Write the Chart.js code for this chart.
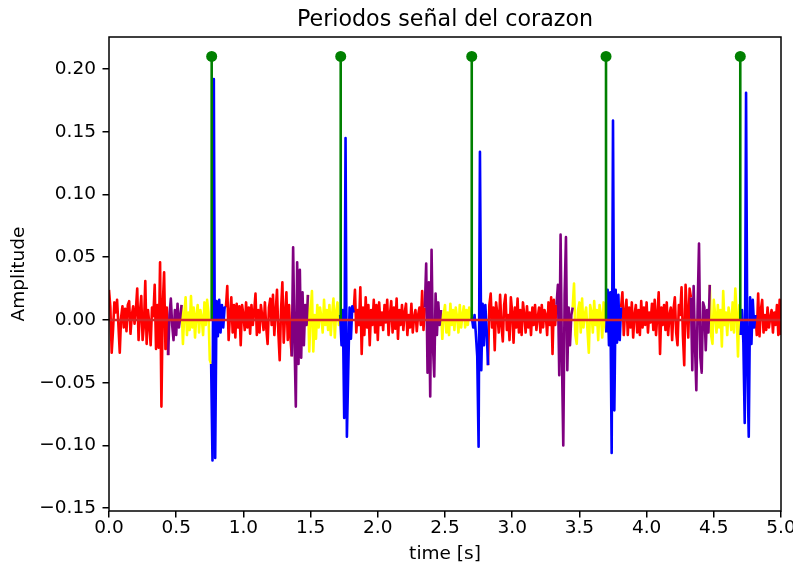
<!DOCTYPE html>
<html>
<head>
<meta charset="utf-8">
<script src="https://cdn.jsdelivr.net/npm/chart.js"></script>
<style>
html,body{margin:0;padding:0;background:#fff;}
canvas{display:block;}
</style>
</head>
<body>
<canvas id="c" width="793" height="565"></canvas>
<script>
// ---- data ----
const SAMPLE_PERIOD = 0.01; // s between samples

const redA = [0.024, 0.010, -0.026, -0.008, 0.014, 0.006, 0.016, -0.004, -0.026, 0.002, 0.011, -0.006, 0.009, -0.009, 0.012, 0.015, -0.011, 0.004, 0.011, -0.003, 0.008, 0.025, -0.016, 0.006, 0.019, -0.016, -0.004, 0.031, -0.019, 0.008, -0.003, -0.020, 0.010, 0.003, 0.028, -0.023, 0.012, -0.022, 0.046, -0.069, 0.012, 0.038, -0.023, 0.010];
const purpleA = [-0.028, 0.004, 0.017, -0.004, -0.016, 0.008, -0.012, 0.013, -0.006, 0.002];
const yellowA = [0.012, -0.019, 0.004, 0.018, -0.012, 0.006, -0.008, 0.019, -0.006, 0.010, -0.014, 0.004, 0.012, -0.010, 0.008, 0.002, -0.012, 0.014, -0.004, 0.016, 0.006, -0.032];
const blueA = [-0.035, -0.112, 0.192, -0.110, 0.015, -0.013, 0.016, -0.010, 0.012, -0.006, 0.010];

const redB = [0.010, 0.027, -0.016, 0.004, 0.018, -0.010, 0.012, -0.014, 0.013, -0.006, 0.011, -0.020, 0.012, 0.004, -0.008, 0.014, -0.006, 0.010, -0.011, 0.012, -0.004, 0.006, 0.021, -0.012, 0.008, -0.010, 0.012, 0.003, -0.008, 0.014, -0.006, -0.019, 0.010, 0.017, -0.004, 0.020, -0.012, 0.006, 0.024, -0.010, -0.032, 0.008, 0.030, -0.018, 0.004, 0.022, -0.016, 0.012, -0.014];
const purpleB = [-0.029, 0.058, -0.015, -0.069, 0.046, -0.035, 0.040, -0.030, 0.022, -0.020, 0.012, -0.004];
const yellowB = [0.020, -0.025, 0.006, 0.023, -0.025, 0.004, -0.015, 0.012, -0.006, 0.010, 0.002, -0.010, 0.016, -0.004, 0.008, -0.008, 0.012, -0.012, 0.004, 0.017, -0.014, 0.006, 0.014, -0.004];
const blueB = [0.004, -0.020, 0.008, -0.078, 0.145, -0.093, -0.040, 0.010, -0.015, 0.011];

const redC = [0.006, 0.024, -0.010, 0.008, -0.004, 0.026, -0.027, 0.010, -0.012, 0.018, -0.006, 0.012, -0.020, 0.008, -0.004, 0.016, -0.010, 0.012, -0.016, 0.014, -0.004, 0.006, -0.008, 0.012, -0.002, 0.016, -0.012, 0.004, 0.015, -0.010, 0.010, -0.007, 0.017, -0.015, 0.008, -0.004, 0.012, -0.008, 0.006, 0.013, -0.012, 0.004, -0.006, 0.013, -0.010, 0.002, 0.008, -0.009, 0.004, 0.010, -0.004, 0.023, -0.008];
const purpleC = [0.010, 0.045, -0.042, 0.030, -0.061, 0.056, -0.020, -0.045, 0.021, -0.012, 0.014, -0.004];
const yellowC = [0.008, -0.015, 0.004, 0.012, -0.010, 0.006, -0.012, 0.013, -0.004, 0.008, -0.008, 0.010, 0.002, -0.010, 0.012, -0.006, 0.004, 0.011, -0.006, 0.008, -0.004, 0.010, 0.002];
const blueC = [0.002, -0.006, 0.004, -0.012, -0.029, -0.101, 0.134, -0.040, 0.013, -0.020, 0.012, -0.008];

const redD = [-0.036, 0.012, 0.021, -0.006, 0.010, -0.024, 0.014, 0.004, -0.010, 0.020, -0.004, -0.017, 0.012, 0.020, -0.008, 0.004, -0.016, 0.018, 0.006, -0.018, 0.010, -0.006, 0.017, -0.010, 0.008, -0.012, 0.014, 0.004, -0.010, 0.011, -0.006, 0.006, -0.012, 0.010, -0.004, 0.012, -0.008, 0.002, 0.010, -0.010, 0.012, -0.006, 0.008, 0.004, -0.012, 0.014, -0.004, 0.018, -0.027, 0.016, -0.004];
const purpleD = [0.012, 0.028, -0.044, 0.068, -0.030, -0.100, 0.020, 0.066, -0.040, 0.010, -0.020, 0.004];
const yellowD = [0.010, 0.029, -0.012, -0.019, 0.008, 0.014, -0.010, 0.017, -0.006, 0.004, 0.010, -0.008, -0.026, 0.012, 0.006, -0.010, 0.015, -0.004, 0.008, -0.016, 0.012, 0.004, -0.014, 0.014, -0.004];
const blueD = [-0.010, 0.024, -0.020, 0.022, -0.106, 0.159, -0.072, 0.024, -0.018, 0.020, -0.016];

const redE = [0.010, 0.022, -0.012, 0.006, 0.016, -0.012, 0.010, -0.006, 0.014, -0.014, 0.004, 0.012, -0.010, 0.008, -0.012, 0.015, -0.006, 0.010, -0.004, 0.014, -0.010, 0.006, -0.002, 0.013, -0.008, 0.016, -0.012, 0.004, 0.022, -0.027, 0.010, -0.004, 0.012, -0.008, 0.014, -0.012, 0.004, 0.010, -0.016, 0.008, 0.018, -0.010, -0.020, 0.012, 0.004, 0.026, -0.012, -0.036, 0.028, 0.006, -0.014, 0.025];
const purpleE = [0.018, -0.040, 0.027, -0.020, -0.056, 0.012, 0.061, -0.030, -0.042, 0.014, 0.010, -0.024, 0.008, -0.010];
const yellowE = [0.028, -0.012, -0.019, 0.016, 0.004, -0.010, 0.012, -0.006, 0.008, -0.021, 0.023, -0.004, 0.006, -0.012, 0.010, 0.002, -0.008, 0.014, -0.010, 0.025, 0.004, -0.029, 0.012];
const blueE = [-0.012, 0.008, -0.018, -0.082, 0.181, -0.040, -0.093, 0.018, -0.019, 0.016, -0.006];

const redF = [0.004, -0.012, 0.021, -0.013, 0.008, 0.016, -0.010, 0.004, -0.008, 0.010, -0.006, 0.002, 0.008, -0.010, 0.006, -0.004, 0.012, -0.012, 0.016, -0.012];

// consecutive signal pieces, in time order, and the phase each belongs to
const segmentValues = [redA, purpleA, yellowA, blueA, redB, purpleB, yellowB, blueB, redC, purpleC, yellowC, blueC, redD, purpleD, yellowD, blueD, redE, purpleE, yellowE, blueE, redF];
const segmentPhase  = ['red','purple','yellow','blue','red','purple','yellow','blue','red','purple','yellow','blue','red','purple','yellow','blue','red','purple','yellow','blue','red'];

// detected beat peaks (stem plot)
const peakTimes   = [0.764, 1.724, 2.699, 3.698, 4.697];
const peakHeights = [0.21, 0.21, 0.21, 0.21, 0.21];

const baselineX = [0, 5];
const xTicks = [0, 0.5, 1.0, 1.5, 2.0, 2.5, 3.0, 3.5, 4.0, 4.5, 5.0];
const yTicks = [-0.15, -0.10, -0.05, 0.00, 0.05, 0.10, 0.15, 0.20];
const chartTitle = 'Periodos señal del corazon';

// ---- build datasets ----
const phaseColors = {red:'#ff0000', purple:'#800080', yellow:'#ffff00', blue:'#0000ff'};
const series = {red:[], purple:[], yellow:[], blue:[]};
let sampleIndex = 0;
segmentValues.forEach((vals, k) => {
  const name = segmentPhase[k];
  const pts = vals.map((v, i) => ({x: +((sampleIndex + i) * SAMPLE_PERIOD).toFixed(4), y: v}));
  const next = segmentValues[k + 1];
  if (next) pts.push({x: +((sampleIndex + vals.length) * SAMPLE_PERIOD).toFixed(4), y: next[0]});
  if (series[name].length) series[name].push({x: pts[0].x - SAMPLE_PERIOD / 2, y: null});
  series[name].push(...pts);
  sampleIndex += vals.length;
});

const stemPts = [];
peakTimes.forEach((t, i) => {
  if (i) stemPts.push({x: t - 0.01, y: null});
  stemPts.push({x: t, y: 0}, {x: t, y: peakHeights[i]});
});
const markerPts = peakTimes.map((t, i) => ({x: t, y: peakHeights[i]}));
const baselinePts = baselineX.map(x => ({x, y: 0}));

const LW = 2.6;
function sigDs(name, order) {
  return {type:'line', data: series[name], borderColor: phaseColors[name], borderWidth: LW,
    pointRadius: 0, tension: 0, spanGaps: false, order, borderJoinStyle:'round', borderCapStyle:'butt'};
}

Chart.defaults.font.family = "'DejaVu Sans', sans-serif";
Chart.defaults.color = '#000';

const framePlugin = {
  id: 'frame',
  afterDatasetsDraw(chart) {
    const {ctx, chartArea: a} = chart;
    ctx.save();
    ctx.strokeStyle = '#000';
    ctx.lineWidth = 1.5;
    ctx.strokeRect(a.left, a.top, a.right - a.left, a.bottom - a.top);
    ctx.restore();
  },
  afterDraw(chart) {
    // axes title, centred over the plotting area (matplotlib style)
    const {ctx, chartArea: a} = chart;
    ctx.save();
    ctx.fillStyle = '#000';
    ctx.font = "22.2px 'DejaVu Sans', sans-serif";
    ctx.textAlign = 'center';
    ctx.textBaseline = 'alphabetic';
    ctx.fillText(chartTitle, (a.left + a.right) / 2, a.top - 11);
    ctx.restore();
  }
};

new Chart(document.getElementById('c'), {
  type: 'line',
  data: {
    datasets: [
      {type:'line', data: baselinePts, borderColor:'#d62728', borderWidth: LW, pointRadius:0, order: 0},
      {type:'line', data: markerPts, showLine:false, pointRadius:5.5, pointBackgroundColor:'#008000', pointBorderColor:'#008000', pointBorderWidth:0, order: 1},
      {type:'line', data: stemPts, borderColor:'#008000', borderWidth: LW, pointRadius:0, spanGaps:false, order: 2},
      sigDs('blue', 3),
      sigDs('purple', 4),
      sigDs('yellow', 5),
      sigDs('red', 6)
    ]
  },
  options: {
    responsive: false,
    devicePixelRatio: 1,
    animation: false,
    events: [],
    layout: {padding: {top: 37, right: 12, bottom: 0, left: 0}},
    plugins: {
      legend: {display: false},
      tooltip: {enabled: false},
      title: {display: false}
    },
    scales: {
      x: {
        type: 'linear', min: 0, max: 5,
        afterBuildTicks: s => { s.ticks = xTicks.map(v => ({value: v})); },
        afterFit: s => { s.height = 54; s.paddingLeft = 0; s.paddingRight = 0; },
        ticks: {callback: v => v.toFixed(1), font: {size: 18.5}, color:'#000', padding: 0, maxRotation: 0, autoSkip: false},
        grid: {drawOnChartArea: false, drawTicks: true, tickLength: 6.5, color: '#000', lineWidth: 1.5},
        border: {display: false},
        title: {display: true, text: 'time [s]', color:'#000', font: {size: 18.5}, padding: {top: 0, bottom: 0}}
      },
      y: {
        type: 'linear', min: -0.1522, max: 0.2255,
        afterBuildTicks: s => { s.ticks = yTicks.map(v => ({value: v})); },
        afterFit: s => { s.width = 109; s.paddingTop = 0; s.paddingBottom = 0; },
        ticks: {callback: v => (v < -1e-9 ? '\u2212' : '') + Math.abs(v).toFixed(2), font: {size: 18.5}, color:'#000', padding: 6.5, autoSkip: false},
        grid: {drawOnChartArea: false, drawTicks: true, tickLength: 6.5, color: '#000', lineWidth: 1.5},
        border: {display: false},
        title: {display: true, text: 'Amplitude', color:'#000', font: {size: 18.5}, padding: {top: 8, bottom: 0}}
      }
    }
  },
  plugins: [framePlugin]
});
</script>
</body>
</html>
